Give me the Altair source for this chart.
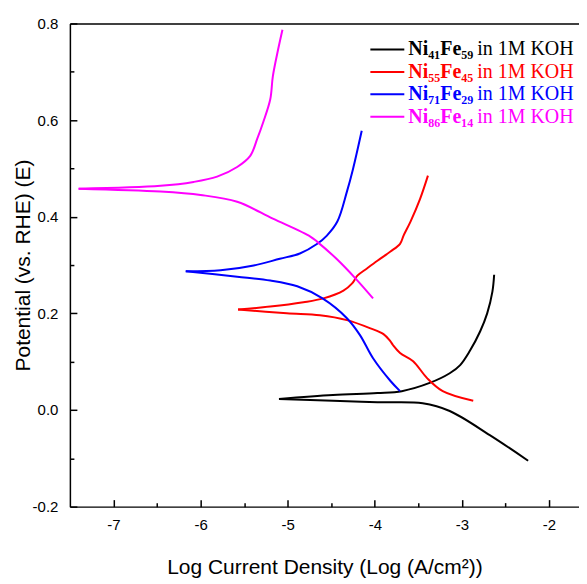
import altair as alt
import pandas as pd

# ---- data (x = log current density, y = potential) ----
ni41_lower_x = [-5.10, -4.48, -3.97, -3.45, -3.14, -2.68, -2.24]
ni41_lower_y = [0.023, 0.019, 0.016, 0.014, -0.002, -0.052, -0.105]
ni41_upper_x = [-5.10, -4.48, -3.97, -3.69, -3.37, -3.14, -3.02, -2.91, -2.79, -2.71, -2.65, -2.63]
ni41_upper_y = [0.023, 0.031, 0.035, 0.039, 0.056, 0.076, 0.093, 0.122, 0.163, 0.200, 0.245, 0.280]

ni55_lower_x = [-5.57, -5.01, -4.63, -4.32, -4.05, -3.90, -3.82, -3.79, -3.71, -3.56, -3.40, -3.22, -2.87]
ni55_lower_y = [0.208, 0.200, 0.196, 0.186, 0.169, 0.157, 0.142, 0.134, 0.118, 0.101, 0.066, 0.039, 0.019]
ni55_upper_x = [-5.57, -5.20, -4.82, -4.59, -4.36, -4.26, -4.20, -4.09, -3.97, -3.82, -3.71, -3.67, -3.59, -3.48, -3.39]
ni55_upper_y = [0.208, 0.214, 0.223, 0.231, 0.247, 0.262, 0.278, 0.293, 0.309, 0.328, 0.344, 0.361, 0.390, 0.437, 0.485]

ni71_lower_x = [-6.17, -5.58, -5.20, -4.89, -4.60, -4.32, -4.17, -4.02, -3.82, -3.71]
ni71_lower_y = [0.287, 0.276, 0.268, 0.256, 0.231, 0.190, 0.155, 0.107, 0.060, 0.039]
ni71_upper_x = [-6.17, -5.77, -5.39, -5.09, -4.86, -4.66, -4.55, -4.43, -4.32, -4.25, -4.15]
ni71_upper_y = [0.287, 0.289, 0.299, 0.313, 0.324, 0.344, 0.361, 0.390, 0.452, 0.499, 0.578]

ni86_lower_x = [-7.40, -6.46, -6.00, -5.58, -5.17, -4.74, -4.66, -4.44, -4.22, -4.02]
ni86_lower_y = [0.458, 0.452, 0.445, 0.431, 0.396, 0.359, 0.348, 0.313, 0.272, 0.231]
ni86_upper_x = [-7.40, -6.46, -6.08, -5.81, -5.58, -5.43, -5.35, -5.28, -5.20, -5.17, -5.11, -5.06]
ni86_upper_y = [0.458, 0.464, 0.472, 0.483, 0.503, 0.526, 0.561, 0.596, 0.643, 0.691, 0.746, 0.787]

series_names = ["Ni41Fe59", "Ni55Fe45", "Ni71Fe29", "Ni86Fe14"]
series_labels = ["Ni\u2084\u2081Fe\u2085\u2089", "Ni\u2085\u2085Fe\u2084\u2085",
                 "Ni\u2087\u2081Fe\u2082\u2089", "Ni\u2088\u2086Fe\u2081\u2084"]
series_colors = ["#000000", "#ff0000", "#0000ff", "#ff00ff"]
legend_suffix = "in 1M KOH"

x_major = [-7, -6, -5, -4, -3, -2]
x_minor = [-6.5, -5.5, -4.5, -3.5, -2.5]
y_major = [-0.2, 0.0, 0.2, 0.4, 0.6, 0.8]
y_minor = [-0.1, 0.1, 0.3, 0.5, 0.7]

x_title = "Log Current Density (Log (A/cm\u00b2))"
y_title = "Potential (vs. RHE) (E)"

# ---- build table: each branch drawn separately so the tip stays sharp ----
branches = [
    (ni41_lower_x, ni41_lower_y, ni41_upper_x, ni41_upper_y),
    (ni55_lower_x, ni55_lower_y, ni55_upper_x, ni55_upper_y),
    (ni71_lower_x, ni71_lower_y, ni71_upper_x, ni71_upper_y),
    (ni86_lower_x, ni86_lower_y, ni86_upper_x, ni86_upper_y),
]
rows = []
for name, (lx, ly, ux, uy) in zip(series_names, branches):
    for bname, bx, by in (("lower", lx, ly), ("upper", ux, uy)):
        for i, (a, b) in enumerate(zip(bx, by)):
            rows.append({"x": a, "y": b, "series": name, "branch": name + bname, "order": i})
df = pd.DataFrame(rows)

W, H = 510, 484
xscale = alt.Scale(domain=[-7.5, -1.656], nice=False, zero=False)
yscale = alt.Scale(domain=[-0.2, 0.8], nice=False, zero=False)
FONT = "Liberation Sans"
MINUS = "replace(datum.label, '\u2212', '-')"

common = dict(grid=False, domainColor="black", tickColor="black", tickWidth=1.5,
              labelColor="black", titleColor="black", labelFont=FONT, titleFont=FONT)

x_main = alt.Axis(orient="bottom", values=x_major, format="d", labelExpr=MINUS,
                  ticks=False, labelPadding=11, labelFontSize=15,
                  title=x_title, titleFontSize=21, titleFontWeight="normal", titlePadding=24,
                  domainWidth=1.5, **common)
y_main = alt.Axis(orient="left", values=y_major, format=".1f", labelExpr=MINUS,
                  ticks=False, labelPadding=12, labelFontSize=15,
                  title=y_title, titleFontSize=21, titleFontWeight="normal", titlePadding=-1,
                  domainWidth=1.5, **common)
# inward-pointing tick axes: opposite orientation, shifted onto the frame edge
x_major_ticks = alt.Axis(orient="top", offset=-H, values=x_major, labels=False, domain=False,
                         tickSize=7, title=None, **common)
y_major_ticks = alt.Axis(orient="right", offset=-W, values=y_major, labels=False, domain=False,
                         tickSize=7, title=None, **common)
x_minor_ticks = alt.Axis(orient="top", offset=-H, values=x_minor, labels=False, domain=False,
                         tickSize=4, title=None, **common)
y_minor_ticks = alt.Axis(orient="right", offset=-W, values=y_minor, labels=False, domain=False,
                         tickSize=4, title=None, **common)
x_top_ax = alt.Axis(orient="top", labels=False, ticks=False, domain=True, title=None,
                    domainWidth=1.5, **common)

color = alt.Color("series:N", scale=alt.Scale(domain=series_names, range=series_colors), legend=None)

lines = alt.Chart(df).mark_line(strokeWidth=2, interpolate="catmull-rom").encode(
    x=alt.X("x:Q", scale=xscale, axis=x_main),
    y=alt.Y("y:Q", scale=yscale, axis=y_main),
    color=color,
    detail="branch:N",
    order="order:Q",
)


def ghost(xax, yax):
    return alt.Chart(df).mark_line(strokeOpacity=0).encode(
        x=alt.X("x:Q", scale=xscale, axis=xax),
        y=alt.Y("y:Q", scale=yscale, axis=yax),
        detail="branch:N",
        order="order:Q",
    )


layers = [lines,
          ghost(x_major_ticks, y_major_ticks),
          ghost(x_minor_ticks, y_minor_ticks),
          ghost(x_top_ax, None)]

dummy = pd.DataFrame({"a": [0]})
for i, (lab, col) in enumerate(zip(series_labels, series_colors)):
    yp = 26 + 22.5 * i
    layers.append(alt.Chart(dummy).mark_rule(color=col, strokeWidth=2).encode(
        x=alt.value(301), x2=alt.value(335), y=alt.value(yp)))
    layers.append(alt.Chart(dummy).mark_text(
        text=lab, color=col, font="Liberation Serif", fontWeight="bold", fontSize=20,
        align="left", baseline="middle").encode(x=alt.value(339), y=alt.value(yp)))
    layers.append(alt.Chart(dummy).mark_text(
        text=legend_suffix, color=col, font="Liberation Serif", fontSize=20,
        align="left", baseline="middle").encode(x=alt.value(408), y=alt.value(yp)))

chart = alt.layer(*layers).resolve_axis(x="independent", y="independent").properties(
    width=W, height=H,
    padding={"left": 4, "top": 8, "right": 0, "bottom": 0},
).configure_view(stroke=None)

chart.save("out.html", embed_options={"renderer": "svg", "actions": False})
